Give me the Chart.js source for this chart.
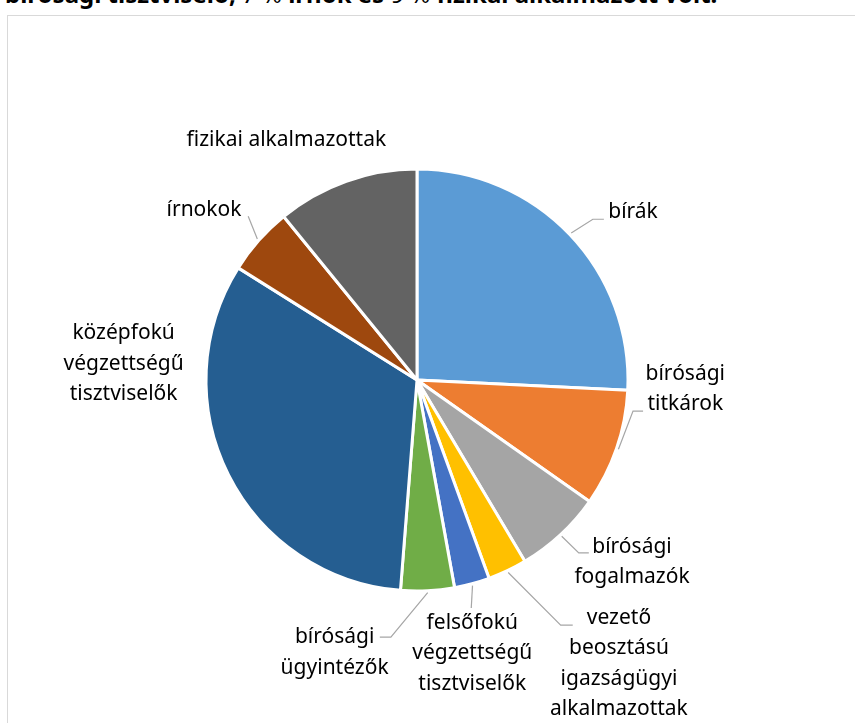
<!DOCTYPE html>
<html lang="hu">
<head>
    <meta charset="UTF-8">
    <title>Bírósági létszám</title>
    <script src="https://cdn.jsdelivr.net/npm/chart.js"></script>
    <style>
        body {
            margin: 0;
            width: 855px;
            height: 723px;
            overflow: hidden;
            position: relative;
            background: #fff;
            font-family: "Noto Sans", sans-serif;
        }
        .cut-title {
            position: absolute;
            left: 5px;
            top: -18px;
            font-size: 24px;
            line-height: 24px;
            white-space: nowrap;
            color: #000;
            font-weight: bold;
        }
        .cut-title span { font-weight: normal; }
        .frame {
            position: absolute;
            left: 7px;
            top: 15px;
            width: 900px;
            height: 800px;
            border: 1.5px solid #d9d9d9;
        }
        canvas {
            position: absolute;
            left: 0;
            top: 0;
        }
    </style>
</head>
<body>
    <div class="cut-title">bírósági tisztviselő, <span>7 %</span> írnok és <span>9 %</span> fizikai alkalmazott volt.</div>
    <div class="frame"></div>
    <canvas id="pie" width="855" height="723"></canvas>
    <script>
        const categories = [
            ['bírák'],
            ['bírósági', 'titkárok'],
            ['bírósági', 'fogalmazók'],
            ['vezető', 'beosztású', 'igazságügyi', 'alkalmazottak'],
            ['felsőfokú', 'végzettségű', 'tisztviselők'],
            ['bírósági', 'ügyintézők'],
            ['középfokú', 'végzettségű', 'tisztviselők'],
            ['írnokok'],
            ['fizikai alkalmazottak']
        ];
        const shares = [25.8, 9.0, 6.7, 3.0, 2.7, 4.1, 32.7, 5.2, 10.9];
        const sliceColors = ['#5b9bd5', '#ed7d31', '#a5a5a5', '#ffc000', '#4472c4',
                             '#70ad47', '#255e91', '#9e480e', '#636363'];

        // label placement, px offsets from the pie centre at radius 210
        const labelCentres = [[215, -167], [267, 9], [214, 181], [201, 282], [55, 272],
                              [-82, 271], [-292, -16], [-212, -169], [-130, -239]];
        const leaderBends = [[175, -160], [215, 31], [161, 172], [143, 244], [54, 227],
                             [-26, 256], null, [-168, -163], null];
        const leaderEnds = [[186, -160], [225, 31], [171, 172], [155, 244], [54, 227],
                            [-37, 256], null, [-168, -163], null];

        const sliceLabels = {
            id: 'sliceLabels',
            afterDatasetsDraw(chart) {
                const ctx = chart.ctx;
                const arcs = chart.getDatasetMeta(0).data;
                ctx.save();
                arcs.forEach((arc, i) => {
                    const k = arc.outerRadius / 210;
                    const cx = arc.x, cy = arc.y;
                    if (leaderEnds[i]) {
                        const mid = (arc.startAngle + arc.endAngle) / 2;
                        const r = arc.outerRadius + 2;
                        ctx.beginPath();
                        ctx.moveTo(cx + Math.cos(mid) * r, cy + Math.sin(mid) * r);
                        ctx.lineTo(cx + leaderBends[i][0] * k, cy + leaderBends[i][1] * k);
                        ctx.lineTo(cx + leaderEnds[i][0] * k, cy + leaderEnds[i][1] * k);
                        ctx.strokeStyle = '#a6a6a6';
                        ctx.lineWidth = 1.2;
                        ctx.stroke();
                    }
                    const lines = categories[i];
                    const lh = 30.5;
                    const tx = cx + labelCentres[i][0] * k;
                    const ty = cy + labelCentres[i][1] * k - (lines.length - 1) * lh / 2;
                    ctx.fillStyle = '#000';
                    ctx.font = '21px "Noto Sans"';
                    ctx.textAlign = 'center';
                    ctx.textBaseline = 'middle';
                    lines.forEach((t, j) => ctx.fillText(t, tx, ty + j * lh));
                });
                ctx.restore();
            }
        };

        new Chart(document.getElementById('pie'), {
            type: 'pie',
            data: {
                labels: categories.map(c => c.join(' ')),
                datasets: [{
                    data: shares,
                    backgroundColor: sliceColors,
                    borderColor: '#ffffff',
                    borderWidth: 3
                }]
            },
            options: {
                responsive: false,
                animation: false,
                radius: 211,
                layout: { padding: { left: 0, right: 21, top: 37, bottom: 0 } },
                plugins: {
                    legend: { display: false },
                    tooltip: { enabled: false }
                }
            },
            plugins: [sliceLabels]
        });
    </script>
</body>
</html>
